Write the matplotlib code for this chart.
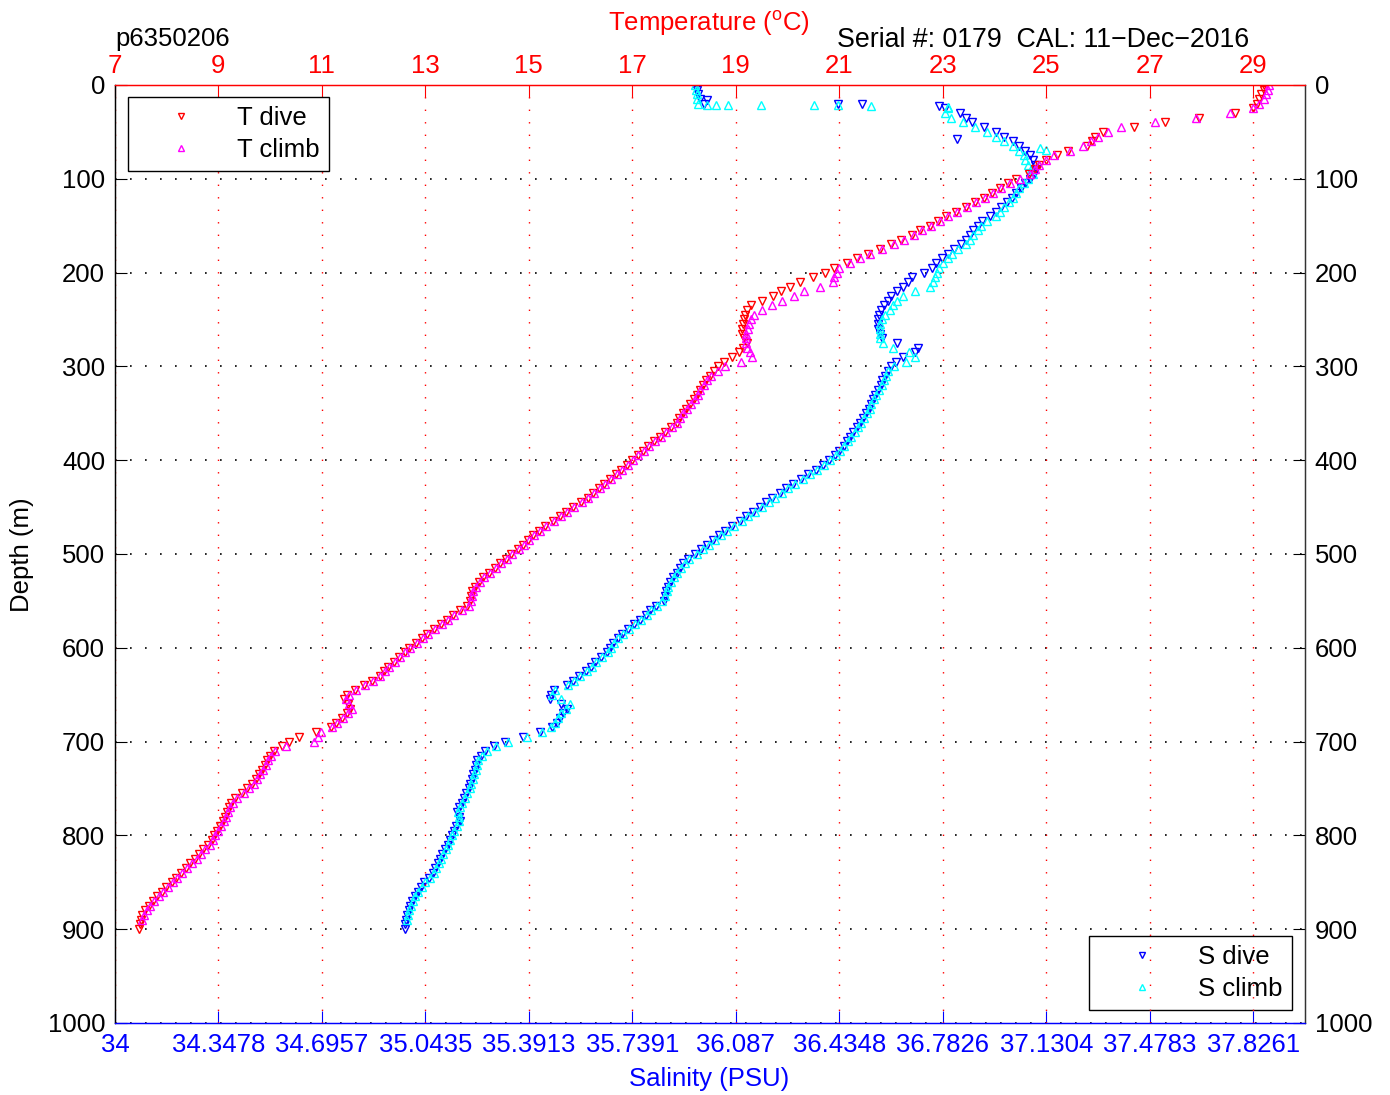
"""Seaglider profile: temperature and salinity vs depth, dive and climb."""

import numpy as np
import matplotlib
matplotlib.use("Agg")
import matplotlib.pyplot as plt

plt.rcParams['font.family'] = ['Liberation Sans', 'DejaVu Sans']
plt.rcParams['mathtext.fontset'] = 'custom'
plt.rcParams['mathtext.rm'] = 'Liberation Sans'

# ---------- data ----------
depth_dive = np.arange(0, 905, 5)      # sampling depths (m), 0..900
depth_climb = np.arange(0, 895, 5)     # 0..890

t_dive = [
    29.2, 29.2, 29.15, 29.12, 29.08, 29.0, 28.65, 27.95, 27.3, 26.7,
    26.1, 25.95, 25.88, 25.78, 25.42, 25.2, 25.0, 24.86, 24.78, 24.66,
    24.42, 24.26, 24.1, 23.95, 23.8, 23.62, 23.44, 23.25, 23.06, 22.9,
    22.75, 22.56, 22.4, 22.2, 22.0, 21.78, 21.55, 21.35, 21.15, 20.9,
    20.72, 20.5, 20.25, 20.05, 19.88, 19.72, 19.5, 19.3, 19.22, 19.18,
    19.16, 19.14, 19.12, 19.12, 19.16, 19.22, 19.14, 19.06, 18.92, 18.78,
    18.66, 18.57, 18.5, 18.42, 18.36, 18.3, 18.25, 18.2, 18.12, 18.04,
    17.97, 17.91, 17.86, 17.74, 17.63, 17.53, 17.42, 17.31, 17.2, 17.1,
    17.0, 16.9, 16.79, 16.68, 16.57, 16.46, 16.35, 16.24, 16.14, 16.0,
    15.86, 15.72, 15.6, 15.46, 15.32, 15.2, 15.08, 14.98, 14.88, 14.79,
    14.66, 14.56, 14.45, 14.34, 14.22, 14.12, 14.03, 13.96, 13.91, 13.88,
    13.86, 13.8, 13.66, 13.53, 13.42, 13.3, 13.16, 13.03, 12.93, 12.81,
    12.69, 12.6, 12.49, 12.4, 12.28, 12.2, 12.12, 11.96, 11.82, 11.63,
    11.48, 11.42, 11.5, 11.55, 11.48, 11.38, 11.28, 11.18, 10.88, 10.55,
    10.36, 10.22, 10.08, 10.0, 9.94, 9.9, 9.84, 9.78, 9.72, 9.65,
    9.56, 9.45, 9.32, 9.25, 9.2, 9.16, 9.12, 9.08, 9.03, 8.98,
    8.92, 8.88, 8.8, 8.7, 8.62, 8.55, 8.45, 8.38, 8.28, 8.18,
    8.1, 7.98, 7.9, 7.82, 7.73, 7.65, 7.58, 7.53, 7.5, 7.48,
    7.46,
]

t_climb = [
    29.3, 29.28, 29.25, 29.2, 29.12, 29.0, 28.55, 27.9, 27.1, 26.45,
    26.2, 26.0, 25.86, 25.72, 25.45, 25.15, 25.0, 24.86, 24.78, 24.68,
    24.5, 24.3, 24.12, 23.97, 23.82, 23.64, 23.46, 23.28, 23.1, 22.94,
    22.78, 22.6, 22.44, 22.25, 22.05, 21.82, 21.6, 21.4, 21.2, 21.0,
    20.95, 20.9, 20.88, 20.62, 20.32, 20.12, 19.9, 19.7, 19.5, 19.36,
    19.3, 19.26, 19.23, 19.2, 19.2, 19.2, 19.22, 19.28, 19.31, 19.1,
    18.8, 18.65, 18.52, 18.44, 18.38, 18.31, 18.26, 18.21, 18.14, 18.06,
    17.98, 17.92, 17.87, 17.76, 17.65, 17.55, 17.44, 17.33, 17.22, 17.11,
    17.01, 16.91, 16.8, 16.7, 16.59, 16.48, 16.37, 16.26, 16.15, 16.02,
    15.88, 15.74, 15.62, 15.48, 15.34, 15.22, 15.1, 15.0, 14.9, 14.8,
    14.68, 14.58, 14.47, 14.36, 14.24, 14.14, 14.05, 13.98, 13.93, 13.9,
    13.88, 13.84, 13.7, 13.56, 13.44, 13.32, 13.18, 13.05, 12.95, 12.83,
    12.7, 12.61, 12.5, 12.41, 12.3, 12.21, 12.13, 11.98, 11.84, 11.66,
    11.52, 11.46, 11.52, 11.58, 11.5, 11.4, 11.3, 11.2, 10.98, 10.93,
    10.85, 10.3, 10.1, 10.02, 9.96, 9.91, 9.86, 9.8, 9.74, 9.68,
    9.6, 9.5, 9.36, 9.28, 9.22, 9.18, 9.14, 9.1, 9.05, 9.0,
    8.94, 8.9, 8.83, 8.74, 8.66, 8.58, 8.48, 8.4, 8.3, 8.2,
    8.12, 8.02, 7.93, 7.85, 7.76, 7.68, 7.61, 7.56, 7.52,
]

s_dive = [
    35.955, 35.957, 35.96, 35.967, 35.98, 36.79, 36.84, 36.86, 36.88, 36.92,
    36.96, 36.99, 37.02, 37.04, 37.06, 37.075, 37.085, 37.092, 37.095, 37.09,
    37.076, 37.06, 37.045, 37.03, 37.015, 37.0, 36.978, 36.96, 36.94, 36.915,
    36.9, 36.885, 36.875, 36.86, 36.845, 36.82, 36.8, 36.78, 36.76, 36.745,
    36.72, 36.68, 36.665, 36.65, 36.63, 36.61, 36.6, 36.585, 36.575, 36.568,
    36.565, 36.565, 36.565, 36.57, 36.58, 36.63, 36.7, 36.69, 36.65, 36.625,
    36.61, 36.6, 36.59, 36.58, 36.575, 36.565, 36.555, 36.548, 36.54, 36.535,
    36.525, 36.515, 36.505, 36.495, 36.482, 36.47, 36.46, 36.45, 36.435, 36.42,
    36.4, 36.38, 36.355, 36.33, 36.305, 36.28, 36.255, 36.235, 36.21, 36.19,
    36.168, 36.145, 36.12, 36.1, 36.075, 36.05, 36.03, 36.01, 35.99, 35.97,
    35.95, 35.925, 35.91, 35.9, 35.888, 35.876, 35.866, 35.858, 35.853, 35.85,
    35.845, 35.82, 35.8, 35.785, 35.765, 35.745, 35.725, 35.705, 35.69, 35.675,
    35.665, 35.655, 35.635, 35.615, 35.6, 35.585, 35.56, 35.54, 35.52, 35.475,
    35.465, 35.462, 35.5, 35.52, 35.505, 35.495, 35.485, 35.47, 35.43, 35.37,
    35.31, 35.275, 35.245, 35.23, 35.218, 35.214, 35.21, 35.205, 35.2, 35.193,
    35.19, 35.18, 35.172, 35.165, 35.158, 35.15, 35.155, 35.16, 35.148, 35.138,
    35.132, 35.125, 35.118, 35.11, 35.1, 35.093, 35.085, 35.077, 35.069, 35.055,
    35.038, 35.028, 35.017, 35.008, 35.0, 34.993, 34.988, 34.983, 34.979, 34.976,
    34.975,
]

s_climb = [
    35.95, 35.953, 35.955, 35.957, 35.96, 36.8, 36.79, 36.81, 36.85, 36.89,
    36.93, 36.96, 36.99, 37.02, 37.04, 37.055, 37.06, 37.07, 37.08, 37.085,
    37.07, 37.055, 37.04, 37.03, 37.02, 37.005, 36.99, 36.975, 36.96, 36.93,
    36.91, 36.9, 36.885, 36.875, 36.86, 36.835, 36.815, 36.8, 36.783, 36.77,
    36.762, 36.755, 36.75, 36.74, 36.69, 36.65, 36.63, 36.615, 36.605, 36.59,
    36.58, 36.572, 36.57, 36.57, 36.572, 36.583, 36.615, 36.67, 36.69, 36.66,
    36.62, 36.6, 36.592, 36.585, 36.578, 36.568, 36.558, 36.55, 36.543, 36.537,
    36.528, 36.518, 36.508, 36.498, 36.486, 36.474, 36.463, 36.452, 36.438, 36.423,
    36.405, 36.385, 36.36, 36.336, 36.312, 36.287, 36.262, 36.242, 36.218, 36.198,
    36.175, 36.152, 36.128, 36.107, 36.082, 36.058, 36.037, 36.016, 35.996, 35.976,
    35.955, 35.93, 35.915, 35.903, 35.89, 35.878, 35.868, 35.86, 35.855, 35.85,
    35.84, 35.822, 35.802, 35.787, 35.768, 35.748, 35.728, 35.708, 35.692, 35.678,
    35.667, 35.657, 35.638, 35.618, 35.602, 35.588, 35.563, 35.543, 35.523, 35.48,
    35.47, 35.5, 35.53, 35.515, 35.5, 35.49, 35.48, 35.465, 35.435, 35.385,
    35.32, 35.28, 35.25, 35.235, 35.222, 35.216, 35.212, 35.207, 35.202, 35.196,
    35.192, 35.183, 35.175, 35.168, 35.16, 35.153, 35.156, 35.158, 35.15, 35.14,
    35.134, 35.127, 35.12, 35.112, 35.103, 35.096, 35.088, 35.08, 35.072, 35.058,
    35.042, 35.032, 35.02, 35.01, 35.003, 34.996, 34.99, 34.985, 34.981,
]

# stray salinity samples near the surface (glider at the surface)
s_dive_extra_depth = [16, 20, 20, 22.5, 58]
s_dive_extra = [35.99, 36.43, 36.51, 36.77, 36.83]
s_climb_extra_depth = [21, 21, 21.5, 21.5, 21.5, 21.5, 22.5, 23.5, 67, 69]
s_climb_extra = [35.99, 36.02, 36.06, 36.17, 36.35, 36.43, 36.54, 36.80, 37.11, 37.13]

temp_ticks = [7, 9, 11, 13, 15, 17, 19, 21, 23, 25, 27, 29]
sal_ticks = [34 + i * 8 / 23 for i in range(12)]

# ---------- figure ----------
fig = plt.figure(figsize=(13.9, 10.95), dpi=100)
ax = fig.add_axes([0.0827, 0.0658, 0.8561, 0.8566])   # salinity (bottom) + depth
axT = ax.twiny()                                       # temperature (top)

FS = 18.5
mk = dict(linestyle='none', markersize=6, markeredgewidth=1.0, fillstyle='none')

sd = np.concatenate([s_dive, s_dive_extra])
sd_z = np.concatenate([depth_dive, s_dive_extra_depth])
sc = np.concatenate([s_climb, s_climb_extra])
sc_z = np.concatenate([depth_climb, s_climb_extra_depth])
ax.plot(sd, sd_z, marker='v', color='#0000ff', label='S dive', **mk)
ax.plot(sc, sc_z, marker='^', color='#00ffff', label='S climb', **mk)

axT.plot(t_dive, depth_dive, marker='v', color='#ff0000', label='T dive', **mk)
axT.plot(t_climb, depth_climb, marker='^', color='#ff00ff', label='T climb', **mk)

ax.set_ylim(1000, 0)
ax.set_yticks(range(0, 1001, 100))
ax.set_xlim(34, 38)
ax.set_xticks(sal_ticks)
ax.set_xticklabels(['%.6g' % v for v in sal_ticks])
axT.set_xlim(7, 30)
axT.set_xticks(temp_ticks)

tick = dict(direction='in', length=8.5, width=0.8, labelsize=FS)
ax.tick_params(axis='x', colors='#0000ff', pad=7, **tick)
ax.tick_params(axis='y', colors='black', left=True, right=True,
               labelleft=True, labelright=True, pad=7, **tick)
axT.tick_params(axis='x', colors='#ff0000', pad=5, **tick)

ax.spines['bottom'].set_color('#0000ff')
axT.spines['bottom'].set_color('#0000ff')
axT.spines['top'].set_color('#ff0000')
for a in (ax, axT):
    a.spines['left'].set_color('black')
    a.spines['right'].set_color('#333333')
    for s in a.spines.values():
        s.set_linewidth(0.9)
ax.spines['top'].set_color('#ff0000')

# grid: black dotted horizontals, red dotted verticals (from the temperature axis)
ax.yaxis.grid(True, color='black', linestyle=(0, (1, 8)), linewidth=1.2)
ax.xaxis.grid(False)
axT.xaxis.grid(True, color='#ff0000', linestyle=(0, (1, 8)), linewidth=1.0)
ax.set_axisbelow(True)

leg_kw = dict(borderaxespad=0, fontsize=FS, handlelength=3.4, handletextpad=0.5,
              labelspacing=0.3, borderpad=0.35, fancybox=False, framealpha=1,
              edgecolor='black', markerscale=0.8)
legT = axT.legend(loc='upper left', bbox_to_anchor=(0.011, 0.987), **leg_kw)
legT.get_frame().set_linewidth(1.0)
legS = ax.legend(loc='lower right', bbox_to_anchor=(0.989, 0.014), **leg_kw)
legS.get_frame().set_linewidth(1.0)

fig.text(0.510, 0.9717, 'Temperature ($^{\\mathrm{o}}$C)', color='#ff0000',
         fontsize=FS, ha='center', va='baseline')
fig.text(0.0827, 0.953, 'p6350206', fontsize=FS, ha='left', va='bottom')
fig.text(0.7505, 0.957, 'Serial #: 0179  CAL: 11\u2212Dec\u22122016', fontsize=19.3,
         ha='center', va='baseline')
fig.text(0.510, 0.0085, 'Salinity (PSU)', color='#0000ff', fontsize=FS,
         ha='center', va='baseline')
fig.text(0.0158, 0.493, 'Depth (m)', fontsize=FS, rotation=90, ha='center', va='center')

fig.savefig('out.png', dpi=100)
